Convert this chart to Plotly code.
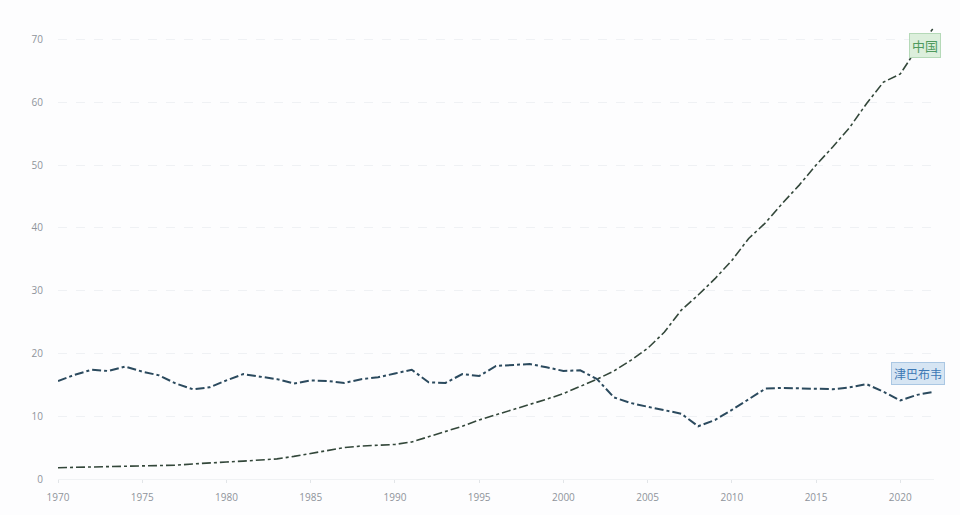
import plotly.graph_objects as go

years = list(range(1970, 2023))

china = [1.8, 1.85, 1.9, 1.95, 2.0, 2.05, 2.1, 2.2, 2.4, 2.6,
         2.7, 2.85, 3.0, 3.2, 3.6, 4.1, 4.6, 5.0, 5.25, 5.4,
         5.5, 5.9, 6.7, 7.5, 8.4, 9.4, 10.2, 11.0, 11.8, 12.7,
         13.6, 14.7, 15.9, 17.2, 18.9, 20.8, 23.4, 26.9, 29.3, 31.9,
         34.8, 38.3, 40.8, 43.9, 46.8, 50.0, 52.9, 56.0, 59.8, 63.2,
         64.5, 68.6, 71.9]

zimbabwe = [15.6, 16.6, 17.4, 17.2, 17.9, 17.1, 16.5, 15.2, 14.3, 14.6,
            15.7, 16.7, 16.3, 15.9, 15.2, 15.7, 15.6, 15.3, 15.9, 16.2,
            16.8, 17.4, 15.4, 15.3, 16.7, 16.4, 18.0, 18.1, 18.3, 17.8,
            17.2, 17.3, 15.9, 13.0, 12.1, 11.5, 11.0, 10.4, 8.4, 9.4,
            11.0, 12.7, 14.4, 14.5, 14.4, 14.4, 14.3, 14.6, 15.1, 13.9,
            12.5, 13.4, 13.9]

x_ticks = [1970, 1975, 1980, 1985, 1990, 1995, 2000, 2005, 2010, 2015, 2020]
y_ticks = [0, 10, 20, 30, 40, 50, 60, 70]

fig = go.Figure()
fig.add_trace(go.Scatter(x=years, y=zimbabwe, mode="lines", name="津巴布韦",
                         line=dict(color="#2b4a5e", width=2, dash="dashdot"),
                         showlegend=False))
fig.add_trace(go.Scatter(x=years, y=china, mode="lines", name="中国",
                         line=dict(color="#33473a", width=1.6, dash="dashdot"),
                         showlegend=False))

fig.add_annotation(x=years[-1], y=china[-1], text="中国", showarrow=False,
                   xanchor="center", yanchor="top", xshift=-9, yshift=-6,
                   font=dict(family="Noto Sans CJK SC", size=13, color="#4f9a5e"),
                   bgcolor="#dcefdc", bordercolor="#b5d9b8", borderwidth=1, borderpad=2)
fig.add_annotation(x=years[-1], y=zimbabwe[-1], text="津巴布韦", showarrow=False,
                   xanchor="center", yanchor="bottom", xshift=-16, yshift=7,
                   font=dict(family="Noto Sans CJK SC", size=12, color="#3d78b5"),
                   bgcolor="#d6e5f3", bordercolor="#aac7e3", borderwidth=1, borderpad=2)

fig.update_layout(
    width=960, height=515,
    margin=dict(l=58, r=26, t=8, b=36),
    paper_bgcolor="#fdfdfe", plot_bgcolor="#fdfdfe",
    font=dict(family="Open Sans", size=10, color="#8f949b"),
    xaxis=dict(range=[1970, 2022], tickvals=x_ticks, showgrid=False,
               zeroline=False, showline=True, linecolor="#f0f2f4",
               ticks="outside", ticklen=3, tickcolor="#e2e5e8",
               ticklabelstandoff=6,
               tickfont=dict(size=10, color="#8f949b")),
    yaxis=dict(range=[0, 75], tickvals=y_ticks, showgrid=True,
               gridcolor="#eff1f4", griddash="dash", gridwidth=1,
               zeroline=False, ticks="", ticklabelstandoff=14,
               tickfont=dict(size=10, color="#8f949b")),
)

fig.write_html("out.html")
